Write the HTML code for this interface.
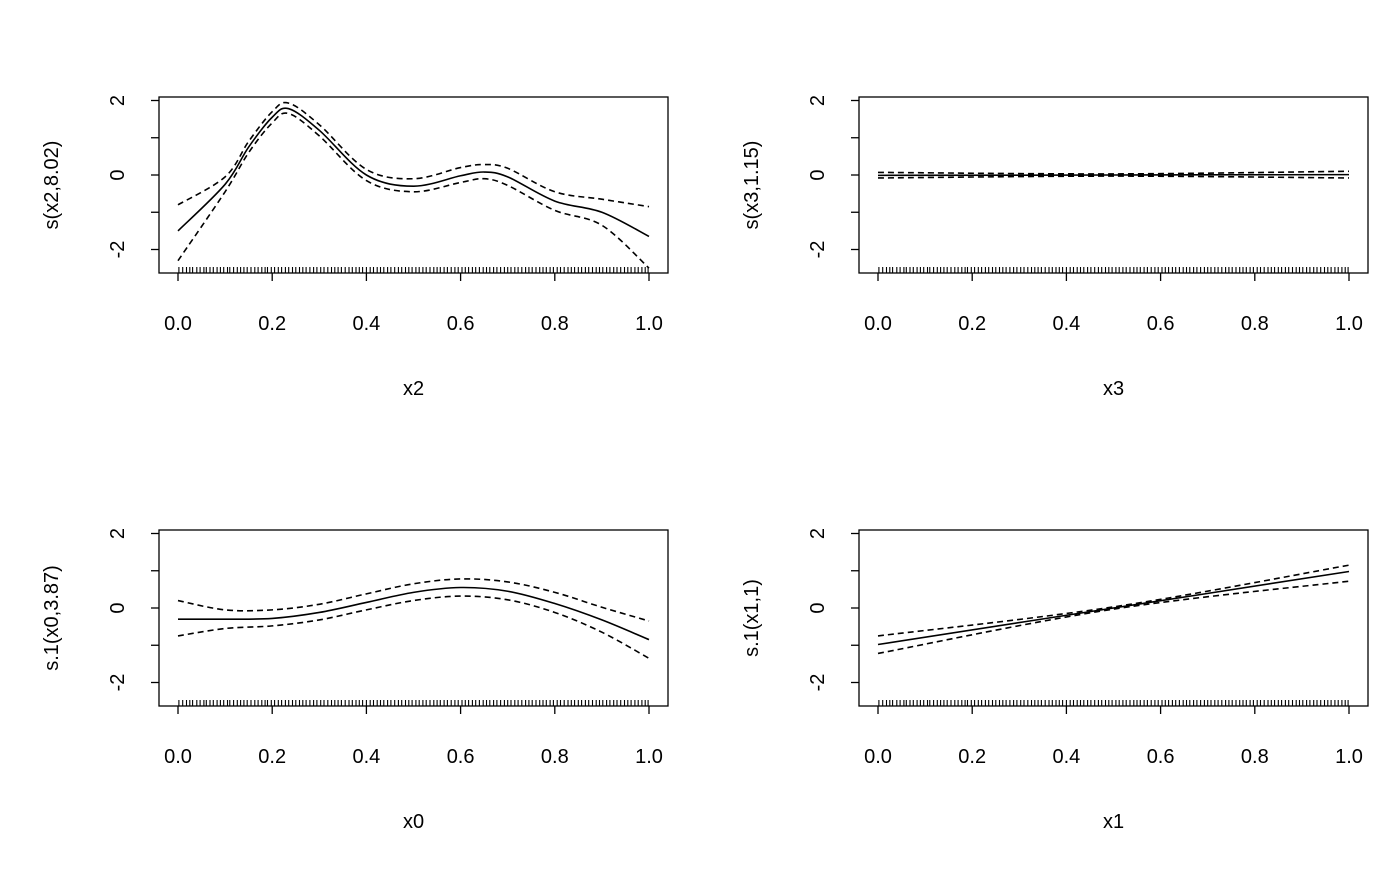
<!DOCTYPE html>
<html><head><meta charset="utf-8">
<style>
html,body{margin:0;padding:0;background:#fff;}
svg text{font-family:"Liberation Sans",sans-serif;font-size:20px;fill:#000;}
</style></head>
<body>
<svg id="chart" width="1400" height="866" xmlns="http://www.w3.org/2000/svg"></svg>
<script>
const xTicks=[0,0.2,0.4,0.6,0.8,1.0];
const xTickLabels=["0.0","0.2","0.4","0.6","0.8","1.0"];
const yTicks=[2,1,0,-1,-2];
const yTickLabels=["2","","0","","-2"];
const rugX=[0.002,0.01,0.018,0.025,0.031,0.04,0.047,0.055,0.06,0.068,0.075,0.083,0.09,0.097,0.105,0.11,0.118,0.126,0.133,0.14,0.147,0.155,0.163,0.17,0.178,0.185,0.19,0.198,0.205,0.213,0.22,0.228,0.235,0.243,0.25,0.258,0.265,0.272,0.28,0.288,0.295,0.303,0.31,0.318,0.326,0.333,0.34,0.347,0.355,0.363,0.37,0.378,0.385,0.392,0.4,0.408,0.415,0.423,0.43,0.437,0.445,0.452,0.46,0.468,0.475,0.483,0.49,0.497,0.505,0.512,0.52,0.527,0.535,0.543,0.55,0.557,0.565,0.572,0.58,0.588,0.595,0.603,0.61,0.617,0.625,0.632,0.64,0.648,0.655,0.662,0.67,0.677,0.685,0.693,0.7,0.707,0.715,0.722,0.73,0.738,0.745,0.752,0.76,0.768,0.775,0.782,0.79,0.797,0.805,0.812,0.82,0.828,0.835,0.842,0.85,0.857,0.865,0.872,0.88,0.888,0.895,0.902,0.91,0.917,0.925,0.932,0.94,0.948,0.955,0.962,0.97,0.977,0.985,0.992,0.998];
// panel 1: s(x2,8.02)
const p1x=[0,0.1,0.15,0.2,0.235,0.3,0.4,0.5,0.6,0.65,0.7,0.8,0.9,1.0];
const p1fit=[-1.5,-0.25,0.75,1.55,1.78,1.2,0.0,-0.3,-0.02,0.08,-0.05,-0.7,-1.0,-1.65];
const p1up=[-0.8,-0.05,0.9,1.7,1.93,1.35,0.15,-0.1,0.2,0.28,0.18,-0.45,-0.65,-0.85];
const p1lo=[-2.3,-0.45,0.6,1.4,1.65,1.05,-0.15,-0.45,-0.2,-0.1,-0.28,-0.95,-1.35,-2.5];
// panel 2: s(x3,1.15)
const p2x=[0,0.5,1.0];
const p2fit=[-0.01,0,0.01];
const p2up=[0.07,0.03,0.1];
const p2lo=[-0.08,-0.03,-0.08];
// panel 3: s.1(x0,3.87)
const p3x=[0,0.1,0.2,0.3,0.4,0.5,0.6,0.7,0.8,0.9,1.0];
const p3fit=[-0.3,-0.3,-0.28,-0.12,0.15,0.42,0.55,0.45,0.12,-0.32,-0.85];
const p3up=[0.2,-0.05,-0.05,0.1,0.38,0.65,0.78,0.7,0.42,0.02,-0.35];
const p3lo=[-0.75,-0.55,-0.48,-0.32,-0.05,0.2,0.32,0.22,-0.12,-0.65,-1.35];
// panel 4: s.1(x1,1)
const p4x=[0,0.5,1.0];
const p4fit=[-0.98,0,0.98];
const p4up=[-0.75,0.03,1.15];
const p4lo=[-1.22,-0.03,0.72];

const panels=[
 {l:159,t:97,xl:"x2",yl:"s(x2,8.02)",x:p1x,f:p1fit,u:p1up,lo:p1lo,name:"x2"},
 {l:859,t:97,xl:"x3",yl:"s(x3,1.15)",x:p2x,f:p2fit,u:p2up,lo:p2lo,name:"x3"},
 {l:159,t:530,xl:"x0",yl:"s.1(x0,3.87)",x:p3x,f:p3fit,u:p3up,lo:p3lo,name:"x0"},
 {l:859,t:530,xl:"x1",yl:"s.1(x1,1)",x:p4x,f:p4fit,u:p4up,lo:p4lo,name:"x1"}
];
const svg=document.getElementById('chart');
const NS="http://www.w3.org/2000/svg";
function mk(tag,attrs,parent){const e=document.createElementNS(NS,tag);for(const k in attrs)e.setAttribute(k,attrs[k]);parent.appendChild(e);return e;}
function smooth(pts){
 let d="M"+pts[0][0]+","+pts[0][1];
 for(let i=0;i<pts.length-1;i++){
  const p0=pts[Math.max(0,i-1)],p1=pts[i],p2=pts[i+1],p3=pts[Math.min(pts.length-1,i+2)];
  const c1=[p1[0]+(p2[0]-p0[0])/6,p1[1]+(p2[1]-p0[1])/6];
  const c2=[p2[0]-(p3[0]-p1[0])/6,p2[1]-(p3[1]-p1[1])/6];
  d+=" C"+c1[0]+","+c1[1]+" "+c2[0]+","+c2[1]+" "+p2[0]+","+p2[1];
 }
 return d;
}
panels.forEach(p=>{
 const W=509,H=176;
 const x0=p.l+19,x1=p.l+490;
 const sx=v=>x0+(x1-x0)*v;
 const sy=v=>p.t+78-37.25*v;
 const g=mk('g',{},svg);
 
 
 const box=mk('rect',{x:p.l,y:p.t,width:W,height:H,fill:'none',stroke:'#000','stroke-width':1.3},g);
 
 
 xTicks.forEach((v,i)=>{
  mk('line',{x1:sx(v),x2:sx(v),y1:p.t+H,y2:p.t+H+8,stroke:'#000','stroke-width':1.3},g);
  const t=mk('text',{x:sx(v),y:p.t+H+57,'text-anchor':'middle'},g);
  t.textContent=xTickLabels[i];
  
  
 });
 yTicks.forEach((v,i)=>{
  mk('line',{x1:p.l,x2:p.l-8,y1:sy(v),y2:sy(v),stroke:'#000','stroke-width':1.3},g);
  if(yTickLabels[i]){
   const t=mk('text',{x:p.l-42,y:sy(v),'text-anchor':'middle',transform:`rotate(-90 ${p.l-42} ${sy(v)})`,dy:'7'},g);
   t.textContent=yTickLabels[i];
   
   
  }
 });
 const xl=mk('text',{x:(x0+x1)/2,y:p.t+H+122,'text-anchor':'middle'},g);
 xl.textContent=p.xl;
 
 
 const yc=p.t+H/2;
 const yl=mk('text',{x:p.l-108,y:yc,'text-anchor':'middle',dy:'7',transform:`rotate(-90 ${p.l-108} ${yc})`},g);
 yl.textContent=p.yl;
 
 
 let rd="";
 rugX.forEach(v=>{rd+=`M${sx(v).toFixed(1)},${p.t+H}V${p.t+H-6}`;});
 const rug=mk('path',{d:rd,stroke:'#000','stroke-width':1.1,fill:'none'},g);
 
 
 const ser=[[p.f,'fit-line',null],[p.u,'upper-ci','6,4'],[p.lo,'lower-ci','6,4']];
 ser.forEach(s=>{
  const pts=p.x.map((v,i)=>[sx(v),sy(s[0][i])]);
  const a={d:smooth(pts),fill:'none',stroke:'#000','stroke-width':1.6};
  if(s[2])a['stroke-dasharray']=s[2];
  const e=mk('path',a,g);
  
  
 });
});
</script>
</body></html>
